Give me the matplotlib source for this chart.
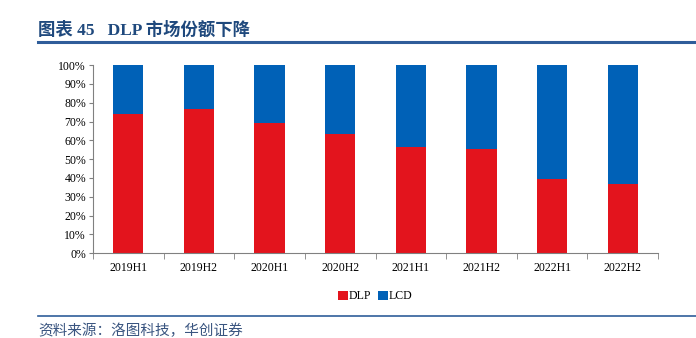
import matplotlib
matplotlib.use("Agg")
import matplotlib.pyplot as plt
from matplotlib.lines import Line2D
from matplotlib.ticker import FuncFormatter, MultipleLocator, FixedLocator
import numpy as np

plt.rcParams['font.family'] = ['Liberation Serif', 'Noto Sans CJK SC', 'DejaVu Sans']

# Half-year periods and DLP share of the projector market (%)
periods = ["2019H1", "2019H2", "2020H1", "2020H2", "2021H1", "2021H2", "2022H1", "2022H2"]
dlp_share = [74.1, 76.5, 69.4, 63.3, 56.6, 55.5, 39.6, 36.6]
lcd_share = [100 - v for v in dlp_share]

RED = "#E3141D"
BLUE = "#0061B7"
NAVY = "#1F497D"

fig = plt.figure(figsize=(6.96, 3.38), dpi=100)
ax = fig.add_axes([0.1336, 0.2506, 0.812, 0.557])

x = np.arange(len(periods))
ax.bar(x, dlp_share, width=0.43, color=RED, label="DLP")
ax.bar(x, lcd_share, width=0.43, bottom=dlp_share, color=BLUE, label="LCD")

ax.set_xlim(-0.5, len(periods) - 0.5)
ax.set_ylim(0, 100)
ax.yaxis.set_major_locator(MultipleLocator(10))
ax.yaxis.set_major_formatter(FuncFormatter(lambda v, p: f"{v:.0f}%"))
ax.set_xticks(x)
ax.set_xticklabels(periods)
ax.xaxis.set_minor_locator(FixedLocator(np.arange(-0.5, len(periods), 1.0)))
ax.tick_params(axis="x", which="major", length=0, pad=6, labelsize=8.5)
ax.tick_params(axis="x", which="minor", length=4, direction="out", color="#808080")
ax.tick_params(axis="y", length=3, direction="out", color="#808080", labelsize=8.5, pad=2)

for side in ("top", "right"):
    ax.spines[side].set_visible(False)
for side in ("left", "bottom"):
    ax.spines[side].set_color("#808080")
    ax.spines[side].set_linewidth(0.8)

ax.legend(loc="upper center", bbox_to_anchor=(0.5, -0.14), ncol=2, frameon=False,
          fontsize=8.5, handlelength=0.8, handleheight=0.8, handletextpad=0.1,
          columnspacing=0.6)

# header and footer
fig.text(38 / 696, 1 - 30 / 338, "图表 45   DLP 市场份额下降", fontsize=12.5,
         fontweight="bold", color=NAVY, va="center", ha="left")
fig.add_artist(Line2D([38 / 696, 1.0], [1 - 42 / 338, 1 - 42 / 338],
                      color="#2F5D9A", linewidth=2.2))
fig.add_artist(Line2D([38 / 696, 1.0], [1 - 316 / 338, 1 - 316 / 338],
                      color="#2F5D9A", linewidth=1.2))
fig.text(38 / 696, 1 - 331 / 338, "资料来源：洛图科技，华创证券", fontsize=10.5,
         color="#3A5580", style="italic", va="center", ha="left",
         family=["Noto Sans CJK SC", "DejaVu Sans"])

fig.savefig("out.png", dpi=100)
